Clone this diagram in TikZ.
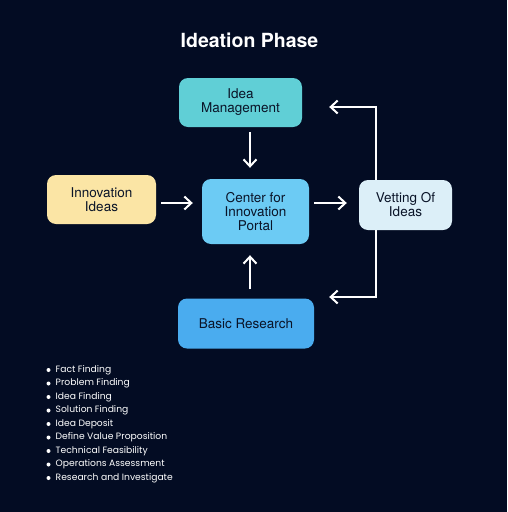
\documentclass[tikz,border=0pt]{standalone}
\usepackage{fontspec}
\setmainfont{TeX Gyre Heros}
\newfontfamily\listfont{Poppins}
\usetikzlibrary{positioning,arrows.meta}

\definecolor{bgnavy}{RGB}{3,12,35}
\definecolor{boxtext}{RGB}{10,20,40}
\definecolor{mgmtteal}{RGB}{96,207,214}
\definecolor{ideasyellow}{RGB}{251,229,165}
\definecolor{portalblue}{RGB}{108,203,244}
\definecolor{vettingblue}{RGB}{220,239,248}
\definecolor{researchblue}{RGB}{74,172,239}

\tikzset{
    box/.style={rounded corners=9pt, align=center, text=boxtext, inner sep=0pt,
        font=\fontsize{13.5}{14}\selectfont},
    flow/.style={-{Straight Barb[length=7pt,width=13pt]}, white, line width=2pt},
}

\begin{document}
\begin{tikzpicture}[x=1pt, y=-1pt]
    % Background and frame
    \fill[bgnavy] (0,0) rectangle (507,512);
    \useasboundingbox (0,0) rectangle (507,512);

    % Title
    \node[white, font=\fontsize{19.5}{21}\selectfont\bfseries] (title) at (249.5,40) {Ideation Phase};

    % Boxes
    \node[box, fill=mgmtteal, minimum width=123pt, minimum height=49pt] (mgmt) at (240.5,102.5) {Idea\\Management};
    \node[box, fill=ideasyellow, minimum width=109pt, minimum height=49pt] (ideas) at (101.5,199.5) {Innovation\\Ideas};
    \node[box, fill=portalblue, minimum width=107pt, minimum height=65pt] (portal) at (255.5,211.5) {Center for\\Innovation\\Portal};
    \node[box, fill=vettingblue, minimum width=93pt, minimum height=50pt] (vetting) at (405.5,205) {Vetting Of\\Ideas};
    \node[box, fill=researchblue, minimum width=136pt, minimum height=50pt] (research) at (246,323.5) {Basic Research};

    % Helper rows / columns for the arrows
    \coordinate (midrow) at (0,203);
    \coordinate (midcol) at (250,0);
    \coordinate (loopcol) at (376,0);
    \coordinate (toprow) at (0,107);
    \coordinate (botrow) at (0,297);

    % Arrows into the portal
    \draw[flow] ([yshift=-5pt]mgmt.south -| midcol) -- ([yshift=11pt]portal.north -| midcol);
    \draw[flow] ([xshift=5pt]ideas.east |- midrow) -- ([xshift=-9pt]portal.west |- midrow);
    \draw[flow] ([yshift=9pt]research.north -| midcol) -- ([yshift=-11pt]portal.south -| midcol);

    % Portal to vetting
    \draw[flow] ([xshift=5pt]portal.east |- midrow) -- ([xshift=-12pt]vetting.west |- midrow);

    % Feedback loops from vetting
    \draw[flow] (vetting.north -| loopcol) |- ([xshift=27pt]mgmt.east |- toprow);
    \draw[flow] (vetting.south -| loopcol) |- ([xshift=15pt]research.east |- botrow);

    % Activity list
    \foreach \item [count=\i] in {Fact Finding, Problem Finding, Idea Finding,
                                  Solution Finding, Idea Deposit, Define Value Proposition,
                                  Technical Feasibility, Operations Assessment,
                                  Research and Investigate} {
        \fill[white] (48.5, 356.5+13.5*\i) circle (2pt);
        \node[white, anchor=west, inner sep=0pt, font=\listfont\fontsize{9.2}{10}\selectfont]
            (act\i) at (55.5, 356.5+13.5*\i) {\item};
    }
\end{tikzpicture}
\end{document}
